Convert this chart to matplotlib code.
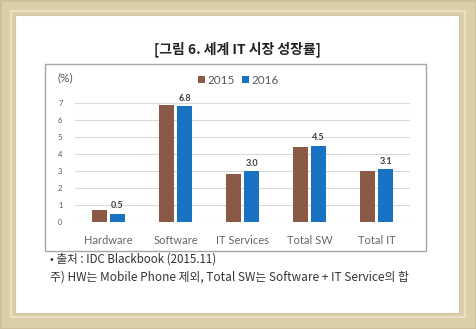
import matplotlib.pyplot as plt
from matplotlib.patches import Rectangle
import numpy as np

categories = ['Hardware', 'Software', 'IT Services', 'Total SW', 'Total IT']
growth_2015 = [0.7, 6.9, 2.8, 4.4, 3.0]
growth_2016 = [0.5, 6.8, 3.0, 4.5, 3.1]
years = ['2015', '2016']
yticks = [0, 1, 2, 3, 4, 5, 6, 7]

KR = ['Noto Sans CJK KR', 'DejaVu Sans']
BROWN = '#8b5a46'
BLUE = '#1a72c2'
GRAY_TXT = '#595959'

fig = plt.figure(figsize=(4.76, 3.29), dpi=100)
fig.patch.set_facecolor('#dbcfaa')

# рамка и белое поле в пиксельных координатах
bg = fig.add_axes([0, 0, 1, 1])
bg.set_xlim(0, 476)
bg.set_ylim(329, 0)
bg.axis('off')
bg.add_patch(Rectangle((0, 0), 476, 329, facecolor='#dbcfaa', edgecolor='#cdc098', lw=2))
bg.add_patch(Rectangle((11, 11), 454, 306, facecolor='none', edgecolor='#e9e0c4', lw=1.5))
bg.add_patch(Rectangle((15, 15), 444, 298, facecolor='white', edgecolor='#d2c6a2', lw=0.8))
bg.add_patch(Rectangle((45, 64), 381, 187, facecolor='white', edgecolor='#a6a6a6', lw=1))

bg.text(237, 49, '[그림 6. 세계 IT 시장 성장률]', family=KR, fontsize=10,
        fontweight='bold', color='#222222', ha='center', va='center')
bg.text(57, 78, '(%)', family='Lato', fontsize=8.5, color=GRAY_TXT, ha='left', va='center')
bg.text(50, 259, '• 출처 : IDC Blackbook (2015.11)', family=KR, fontsize=8.3,
        color='#333333', ha='left', va='center')
bg.text(50, 277, '주) HW는 Mobile Phone 제외, Total SW는 Software + IT Service의 합',
        family=KR, fontsize=8.5, color='#333333', ha='left', va='center')

# сам график
ax = fig.add_axes([75 / 476, (329 - 222) / 329, 335 / 476, 119 / 329])
x = np.arange(len(categories))
w = 0.225
off = 0.135
ax.bar(x - off, growth_2015, w, color=BROWN, label=years[0], zorder=3)
bars16 = ax.bar(x + off, growth_2016, w, color=BLUE, label=years[1], zorder=3)

for rect, v in zip(bars16, growth_2016):
    ax.annotate(f'{v:.1f}', xy=(rect.get_x() + rect.get_width() / 2, v), xytext=(0, 2.5),
                textcoords='offset points', ha='center', va='bottom', fontsize=6.5,
                fontweight='bold', color='#404040', family='Lato', annotation_clip=False)

ax.set_xlim(-0.5, len(categories) - 0.5)
ax.set_ylim(0, 7)
ax.set_yticks(yticks)
ax.set_xticks(x)
ax.set_xticklabels(categories, family='Lato', fontsize=8, color='#666666')
ax.tick_params(axis='y', length=0, pad=9, labelsize=5.5, labelcolor=GRAY_TXT)
ax.tick_params(axis='x', length=0, pad=9)
for lbl in ax.get_yticklabels():
    lbl.set_family('Lato')
ax.grid(axis='y', color='#d9d9d9', lw=0.8, zorder=0)
for s in ax.spines.values():
    s.set_visible(False)
ax.patch.set_alpha(0)

ax.legend(loc='center', bbox_to_anchor=(0.487, 1.19), ncol=2, frameon=False,
          handlelength=0.6, handleheight=0.6, handletextpad=0.2, columnspacing=0.6,
          prop={'family': 'Lato', 'size': 8.5}, labelcolor=GRAY_TXT)

fig.savefig('out.png', dpi=100, facecolor=fig.get_facecolor())
